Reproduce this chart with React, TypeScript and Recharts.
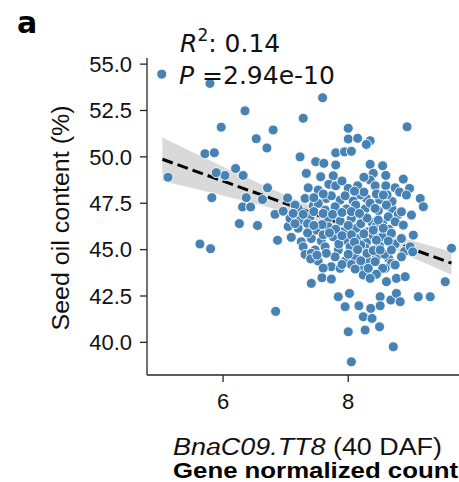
import { Area, ComposedChart, Line, Scatter, XAxis, YAxis } from 'recharts';

// [gene normalized count, seed oil content %]
const SAMPLES: [number, number][] = [
  [5.02, 54.46], [5.79, 53.96], [6.35, 52.48], [5.97, 51.6], [6.8, 51.45], [6.53, 50.98],
  [6.7, 50.48], [5.71, 50.17], [5.86, 50.22], [5.12, 48.9], [6.2, 49.37], [6.03, 49.0],
  [5.89, 49.15], [6.32, 49.0], [6.71, 48.33], [5.82, 47.8], [6.37, 47.8], [7.03, 47.78],
  [6.31, 47.3], [6.44, 47.3], [6.63, 47.7], [6.83, 46.9], [6.96, 47.07], [6.26, 46.4],
  [6.55, 46.3], [7.04, 46.25], [7.09, 45.66], [6.87, 45.5], [5.63, 45.3], [5.8, 45.05],
  [6.84, 41.67],
  [7.59, 53.19], [7.28, 52.08], [8.0, 51.54], [8.0, 50.96], [8.15, 51.0], [8.35, 50.87],
  [8.29, 50.67], [8.94, 51.62], [7.23, 50.0], [7.8, 50.22], [7.94, 50.27], [8.05, 50.3],
  [7.48, 49.74], [7.61, 49.65], [7.8, 49.56], [8.35, 49.6], [8.55, 49.52], [7.33, 49.11],
  [7.56, 48.93], [7.76, 48.98], [8.4, 49.11], [8.88, 48.8], [7.69, 48.52], [7.8, 48.44],
  [7.36, 48.33], [8.0, 48.3], [8.15, 48.44], [8.35, 48.75], [8.43, 48.44], [8.6, 48.44],
  [8.75, 48.33], [8.98, 48.3], [9.15, 47.76], [7.52, 48.21],
  [7.31, 47.76], [7.65, 47.76], [7.87, 47.67], [8.08, 47.62], [8.29, 47.76],
  [7.2, 47.22], [7.44, 47.36], [7.63, 47.13], [7.79, 47.31], [7.97, 47.19], [8.12, 47.4],
  [8.27, 47.19], [7.07, 46.68], [7.23, 46.59], [7.39, 46.77], [7.68, 46.68], [7.87, 46.54],
  [8.05, 46.68], [8.24, 46.77], [8.38, 46.47], [7.2, 46.15], [7.49, 46.05], [7.68, 46.23],
  [7.92, 45.96], [8.13, 46.15], [8.32, 45.96], [7.25, 45.42], [7.41, 45.6], [7.57, 45.46],
  [7.76, 45.69], [7.95, 45.51], [8.13, 45.6], [8.29, 45.39], [7.28, 45.15], [7.47, 44.98],
  [7.63, 45.15], [7.84, 44.98], [8.03, 45.15], [8.13, 44.88], [8.27, 45.1], [7.31, 44.74],
  [7.52, 44.38], [7.79, 44.61], [7.95, 44.38], [8.11, 44.61], [8.32, 44.38], [7.73, 44.08],
  [7.87, 43.99], [8.19, 44.08], [7.41, 44.8],
  [7.15, 47.4], [7.52, 47.49], [7.73, 47.9], [7.95, 47.9], [8.2, 47.95], [7.35, 46.4],
  [7.58, 46.35], [7.8, 46.1], [8.0, 46.3], [8.2, 46.4], [7.35, 45.9], [7.6, 45.8],
  [7.85, 45.3], [8.05, 45.8], [8.2, 45.25], [7.4, 44.5], [7.65, 44.8], [8.0, 44.75],
  [8.2, 44.4], [7.6, 44.0], [8.05, 44.2], [8.5, 45.2], [8.3, 44.8], [8.55, 46.4],
  [8.35, 47.5], [8.5, 47.7], [8.7, 47.2], [8.3, 46.7], [8.45, 44.6], [8.65, 44.5],
  [7.9, 48.7], [8.25, 48.9], [8.6, 49.0],
  [7.12, 46.95], [7.28, 46.9], [7.45, 47.05], [7.6, 46.95], [7.75, 46.9], [7.9, 47.0],
  [8.05, 47.05], [8.18, 46.95], [7.15, 46.4], [7.45, 46.3], [7.7, 45.9], [7.9, 45.75],
  [8.1, 45.4], [8.25, 45.85], [8.4, 45.75], [8.55, 45.7], [8.45, 46.3], [8.65, 46.1],
  [8.75, 45.3], [8.58, 44.75], [8.9, 44.9], [8.8, 46.9], [8.7, 47.6], [8.25, 48.1],
  [8.45, 48.0], [8.1, 48.15], [7.6, 48.0], [7.45, 47.8], [7.9, 44.2], [8.4, 44.95],
  [8.15, 45.0], [7.5, 44.7], [8.48, 47.1], [8.62, 47.95], [8.82, 48.1],
  [8.56, 47.94], [8.93, 47.94], [9.2, 47.31], [8.43, 47.22], [8.61, 47.4], [8.85, 47.04],
  [9.01, 46.86], [8.48, 46.59], [8.64, 46.77], [8.75, 46.5], [8.88, 46.32], [8.56, 46.15],
  [8.4, 46.05], [8.69, 45.88], [9.04, 45.78], [8.45, 45.51], [8.64, 45.46], [8.85, 45.6],
  [8.99, 45.15], [8.51, 44.98], [8.69, 44.98], [9.65, 45.07], [8.43, 44.35], [8.69, 44.26],
  [8.85, 44.61], [9.03, 44.88], [8.59, 43.99],
  [7.41, 43.18], [7.58, 43.48], [7.73, 43.41], [8.11, 43.95], [8.24, 43.63], [8.32, 43.99],
  [7.84, 42.46], [8.02, 42.64], [7.95, 41.92], [8.17, 41.97], [8.36, 41.83], [8.24, 41.38],
  [8.38, 41.29], [8.0, 40.57], [8.27, 40.66], [8.05, 38.95], [8.55, 43.99], [8.75, 44.17],
  [8.45, 43.67], [8.61, 43.27], [8.77, 43.45], [8.91, 43.54], [8.51, 42.46], [8.68, 42.28],
  [8.77, 42.64], [8.83, 42.19], [8.51, 41.97], [8.5, 40.84], [9.12, 42.46], [9.31, 42.46],
  [9.55, 43.27], [8.72, 39.76], [8.35, 43.45],
];

// fitted line and its confidence band
const FIT_X = [5.03, 9.65];
const FIT_Y = [49.87, 44.27];
const BAND_X = [5.03, 5.5, 6.0, 6.5, 7.0, 7.5, 8.0, 8.5, 9.0, 9.65];
const BAND_LO = [48.7, 48.32, 47.91, 47.49, 47.03, 46.53, 45.99, 45.34, 44.6, 43.65];
const BAND_HI = [51.04, 50.28, 49.47, 48.69, 47.93, 47.21, 46.55, 45.98, 45.5, 44.89];

const X_TICKS = [6, 8];
const Y_TICKS = [40, 42.5, 45, 47.5, 50, 52.5, 55];

const points = SAMPLES.map(([x, y]) => ({ x, y }));
const fit = FIT_X.map((x, i) => ({ x, y: FIT_Y[i] }));
const band = BAND_X.map((x, i) => ({ x, range: [BAND_LO[i], BAND_HI[i]] }));

const AXIS = '#262626';
const TICK = { fill: '#111', fontSize: 22, fontFamily: 'Liberation Sans, Arial, sans-serif' };

const Dot = (props: any) => (
  <circle cx={props.cx} cy={props.cy} r={5} fill="#4682b4" stroke="#ffffff" strokeWidth={0.9} />
);

export default function App() {
  return (
    <div style={{ position: 'absolute', left: 0, top: 0, width: 459, height: 482, background: '#fff' }}>
      <ComposedChart width={459} height={482} margin={{ top: 58, right: 0, bottom: 77, left: 87 }}>
        <XAxis
          type="number"
          dataKey="x"
          domain={[4.784, 9.77]}
          allowDataOverflow
          ticks={X_TICKS}
          height={30}
          tick={TICK}
          tickSize={7}
          tickMargin={11}
          stroke={AXIS}
          strokeWidth={1.3}
        />
        <YAxis
          type="number"
          dataKey="y"
          domain={[38.24, 55.33]}
          allowDataOverflow
          ticks={Y_TICKS}
          tickFormatter={(v: number) => v.toFixed(1)}
          width={60}
          tick={TICK}
          tickSize={7}
          tickMargin={8}
          stroke={AXIS}
          strokeWidth={1.3}
        />
        <Area
          data={band}
          dataKey="range"
          type="monotone"
          stroke="none"
          fill="#000"
          fillOpacity={0.15}
          isAnimationActive={false}
        />
        <Scatter data={points} shape={Dot} isAnimationActive={false} />
        <Line
          data={fit}
          dataKey="y"
          stroke="#000"
          strokeWidth={3}
          strokeDasharray="11 5"
          dot={false}
          isAnimationActive={false}
        />
      </ComposedChart>
      <svg
        width={459}
        height={482}
        style={{ position: 'absolute', left: 0, top: 0, pointerEvents: 'none' }}
      >
        <text x={17} y={33} fontSize={30} fontWeight="bold" fontFamily="DejaVu Sans">
          a
        </text>
        <g fontFamily="DejaVu Sans" fontSize={25} fill="#111">
          <text x={180} y={52}>
            <tspan fontStyle="italic">R</tspan>
            <tspan dy={-11} fontSize={17}>2</tspan>
            <tspan dy={11}>: 0.14</tspan>
          </text>
          <text x={179} y={84}>
            <tspan fontStyle="italic">P</tspan>
            <tspan> =2.94e-10</tspan>
          </text>
        </g>
        <text
          transform="translate(69, 218) rotate(-90)"
          textAnchor="middle"
          fontSize={23}
          textLength={225}
          lengthAdjust="spacingAndGlyphs"
          fontFamily="Liberation Sans, Arial, sans-serif"
          fill="#111"
        >
          Seed oil content (%)
        </text>
        <text
          x={307.5}
          y={455}
          textAnchor="middle"
          fontSize={23}
          textLength={269}
          lengthAdjust="spacingAndGlyphs"
          fontFamily="Liberation Sans, Arial, sans-serif"
          fill="#111"
        >
          <tspan fontStyle="italic">BnaC09.TT8</tspan>
          <tspan> (40 DAF)</tspan>
        </text>
        <text
          x={315.5}
          y={478}
          textAnchor="middle"
          fontSize={22}
          fontWeight="bold"
          textLength={285}
          lengthAdjust="spacingAndGlyphs"
          fontFamily="Liberation Sans, Arial, sans-serif"
          fill="#000"
        >
          Gene normalized count
        </text>
      </svg>
    </div>
  );
}
